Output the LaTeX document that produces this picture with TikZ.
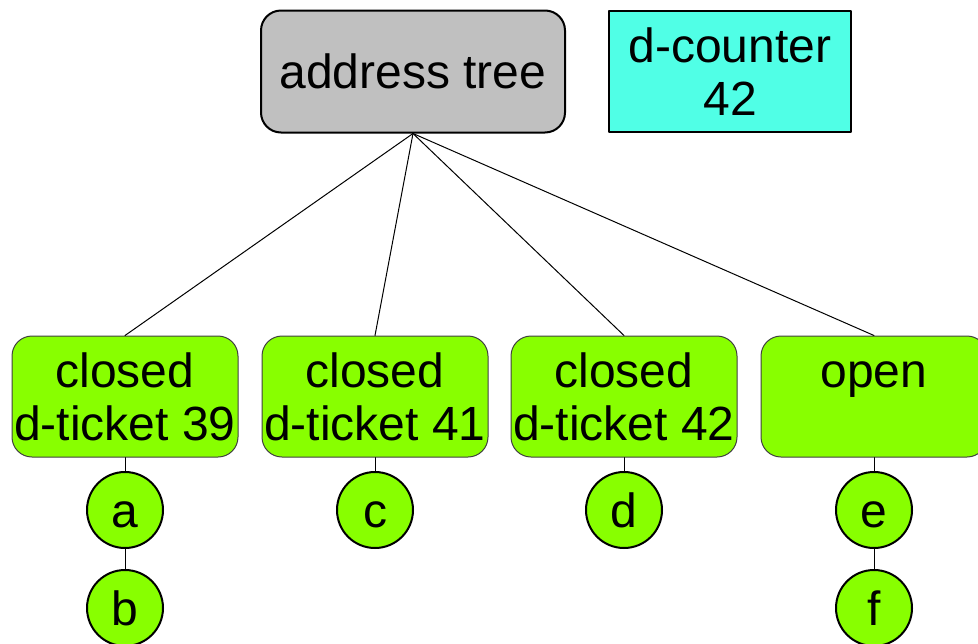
\documentclass[tikz,border=0pt]{standalone}
\usepackage{fontspec}
\setmainfont{Liberation Sans}
\definecolor{treegray}{HTML}{C0C0C0}
\definecolor{countcyan}{HTML}{50FFE6}
\definecolor{ticketgreen}{HTML}{88FF00}
\begin{document}
\begin{tikzpicture}[x=0.75pt, y=-0.75pt, font=\fontsize{36}{39.75}\selectfont, line join=round, line cap=round,
	treebox/.style={draw, line width=1.5pt, fill=treegray, rounded corners=15pt, minimum width=228pt, minimum height=91.5pt, inner sep=0pt},
	countbox/.style={draw, line width=1.5pt, fill=countcyan, minimum width=181.5pt, minimum height=90.75pt, inner sep=0pt, align=center},
	ticket/.style={draw=black!75, line width=0.75pt, fill=ticketgreen, rounded corners=15pt, minimum width=169.5pt, minimum height=90.75pt, inner sep=0pt, align=center},
	leaf/.style={circle, draw, line width=1.5pt, fill=ticketgreen, minimum size=57pt, inner sep=0pt, text height=26pt, text depth=0pt},
	edge/.style={line width=0.75pt}]
	\useasboundingbox (0,0) rectangle (978,643);
	\node[treebox] (tree) at (413,71.5) {address tree};
	\node[countbox] (counter) at (730,71.5) {d-counter\\42};
	\node[ticket] (t39) at (125,396.5) {closed\\d-ticket 39};
	\node[ticket] (t41) at (375,396.5) {closed\\d-ticket 41};
	\node[ticket] (t42) at (624,396.5) {closed\\d-ticket 42};
	\node[ticket] (topen) at (874,396.5) {\vphantom{d}open\\\phantom{d-ticket 39}};
	\node[leaf] (a) at (125,510) {a};
	\node[leaf] (b) at (125,608) {b};
	\node[leaf] (c) at (375,510) {c};
	\node[leaf] (d) at (624,510) {d};
	\node[leaf] (e) at (874,510) {e};
	\node[leaf] (f) at (874,608) {f};
	\foreach \t in {t39,t41,t42,topen}
		\draw[edge] (tree.south) -- (\t.north);
	\draw[edge] (t39) -- (a) (a) -- (b);
	\draw[edge] (t41) -- (c);
	\draw[edge] (t42) -- (d);
	\draw[edge] (topen) -- (e) (e) -- (f);
\end{tikzpicture}
\end{document}
